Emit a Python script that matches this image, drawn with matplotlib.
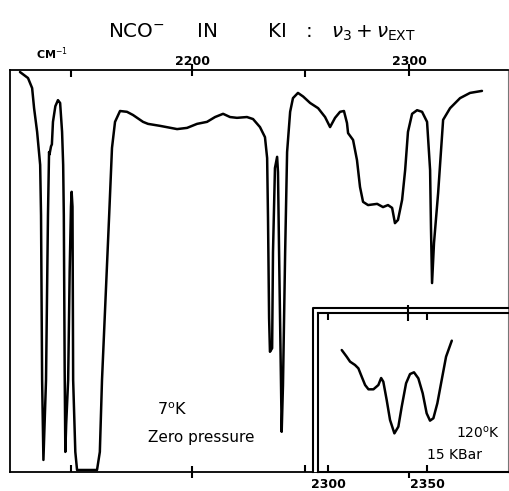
import matplotlib.pyplot as plt
from matplotlib.lines import Line2D
from matplotlib.patches import Rectangle

# main trace, 7 K, zero pressure (wavenumber cm-1, % of frame height)
WN_MAIN = [2120.7, 2124.4, 2126.3, 2127.2, 2128.6, 2130.0, 2130.4, 2130.9, 2131.5,
           2132.7, 2133.6, 2134.1, 2134.3, 2135.0, 2135.4, 2135.9, 2137.0, 2137.8,
           2138.2, 2139.2, 2140.1, 2140.6, 2140.9, 2141.3, 2141.6, 2142.0, 2142.9,
           2143.6, 2144.2, 2144.5, 2144.9, 2145.2, 2146.2, 2147.0, 2156.2, 2157.5,
           2158.5, 2161.8, 2163.1, 2164.5, 2166.8, 2170.0, 2172.8, 2177.4, 2179.7,
           2185.3, 2193.1, 2197.7, 2202.3, 2206.9, 2210.6, 2214.3, 2217.5, 2220.7,
           2225.3, 2228.1, 2231.3, 2233.6, 2234.6, 2235.0, 2235.5, 2235.9, 2236.9,
           2237.3, 2238.2, 2239.2, 2239.6, 2240.1, 2241.0, 2241.3, 2241.9, 2242.9,
           2243.8, 2245.2, 2246.5, 2248.8, 2251.2, 2254.4, 2258.1, 2261.3, 2263.6,
           2265.9, 2268.2, 2270.0, 2271.4, 2271.9, 2274.2, 2276.0, 2277.4, 2278.8,
           2281.1, 2285.3, 2288.0, 2290.3, 2292.2, 2293.5, 2294.9, 2296.8, 2298.2,
           2299.5, 2301.4, 2303.7, 2306.0, 2308.3, 2309.7, 2310.1, 2310.6, 2311.5,
           2313.4, 2315.7, 2318.9, 2323.5, 2328.1, 2333.6]
T_MAIN = [99.5, 98.0, 95.5, 90.5, 84.6, 76.4, 63.9, 22.9, 3.0,
          22.9, 63.9, 79.6, 79.0, 81.0, 81.5, 87.1, 91.0, 92.0,
          92.5, 91.8, 84.6, 76.4, 63.9, 25.0, 5.0, 12.0, 22.9,
          50.0, 66.0, 69.7, 66.0, 22.9, 5.0, 0.5, 0.5, 5.0,
          22.9, 63.9, 80.6, 87.1, 89.8, 89.6, 88.8, 87.1, 86.6,
          86.1, 85.3, 85.6, 86.6, 87.1, 88.3, 89.1, 88.3, 88.1,
          88.3, 87.8, 85.8, 83.3, 78.1, 63.2, 38.3, 29.9, 30.8,
          54.7, 75.6, 78.4, 74.6, 54.7, 21.6, 10.0, 21.6, 54.7,
          79.6, 89.6, 93.0, 94.3, 93.4, 91.8, 90.5, 88.3, 85.8,
          88.1, 89.6, 89.8, 86.8, 84.3, 82.6, 77.6, 70.9, 67.2,
          66.4, 66.7, 65.9, 66.4, 65.7, 61.9, 62.7, 67.7, 75.1,
          84.6, 89.1, 90.0, 89.6, 87.1, 75.1, 60.9, 47.0, 57.0,
          69.4, 87.6, 90.5, 93.0, 94.3, 94.8]

# inset trace, 120 K, 15 kbar
WN_INSET = [2306.9, 2309.4, 2311.1, 2313.6, 2315.3, 2317.0, 2318.7, 2320.4, 2322.9,
            2325.4, 2326.8, 2327.9, 2329.6, 2331.3, 2333.5, 2335.5, 2337.2, 2339.4,
            2341.4, 2343.4, 2345.6, 2347.8, 2349.8, 2351.5, 2353.2, 2355.2, 2357.4,
            2359.6, 2362.5]
T_INSET = [76.7, 72.5, 69.4, 67.3, 65.2, 59.9, 54.7, 52.0, 52.0,
           54.7, 59.1, 56.8, 45.3, 32.7, 24.3, 28.5, 41.1, 55.8,
           61.6, 62.7, 58.9, 49.5, 36.9, 32.3, 33.8, 43.2, 57.9,
           72.5, 82.6]

MAIN_TICKS = [2200, 2300]
MAIN_MINOR = [2144, 2252]
INSET_TICKS = [2300, 2350]

W, H = 510, 491
fig = plt.figure(figsize=(W / 100, H / 100), dpi=100)

ax = fig.add_axes([10 / W, 19 / H, 498 / W, 402 / H])
ax.plot(WN_MAIN, T_MAIN, color='black', lw=1.8, solid_capstyle='round')
ax.set_xlim(2116.1, 2345.6)
ax.set_ylim(0, 100)
ax.set_yticks([])
ax.set_xticks(MAIN_TICKS)
ax.set_xticks(MAIN_MINOR, minor=True)
ax.set_xticklabels([str(t) for t in MAIN_TICKS], fontsize=9, fontweight='bold')
ax.tick_params(axis='x', which='both', top=True, bottom=True,
               labeltop=True, labelbottom=False, color='black')
ax.tick_params(axis='x', which='major', direction='inout', length=9, width=1.5, pad=-3)
ax.tick_params(axis='x', which='minor', direction='in', length=5, width=1.5)
for side in ['left', 'top', 'bottom']:
    ax.spines[side].set_linewidth(1.3)
ax.spines['right'].set_linewidth(0.8)
ax.spines['right'].set_color('#777777')

ax.text((36 - 10) / 498, 1.02, 'CM$^{-1}$', transform=ax.transAxes, fontsize=8,
        fontweight='bold', ha='left', va='bottom')
ax.text(2190.8, 15.4, '7$^{\\rm o}$K', fontsize=11.5, ha='center', va='center')
ax.text(2204.1, 8.7, 'Zero pressure', fontsize=11, ha='center', va='center')

# white cover + double outer frame of the inset
fig.patches.append(Rectangle((313 / W, 19 / H), 195 / W, 164 / H,
                             transform=fig.transFigure, facecolor='white',
                             edgecolor='none', zorder=1))
fig.lines.append(Line2D([313 / W, 313 / W, 508 / W], [19 / H, 183 / H, 183 / H],
                        transform=fig.transFigure, color='black', lw=1.5, zorder=3))

ax2 = fig.add_axes([318 / W, 19 / H, 190 / W, 159 / H])
ax2.set_zorder(2)
ax2.plot(WN_INSET, T_INSET, color='black', lw=1.8, solid_capstyle='round')
ax2.set_xlim(2294.9, 2390.9)
ax2.set_ylim(0, 100)
ax2.set_yticks([])
ax2.set_xticks(INSET_TICKS)
ax2.set_xticks([2340.4], minor=True)
ax2.set_xticklabels([str(t) for t in INSET_TICKS], fontsize=9, fontweight='bold')
ax2.tick_params(axis='x', which='major', direction='in', length=5, width=1.5,
                top=True, pad=4)
ax2.tick_params(axis='x', which='minor', direction='inout', length=12, width=1.5,
                top=True, bottom=False)
for side in ['left', 'top', 'bottom']:
    ax2.spines[side].set_linewidth(1.5)
ax2.spines['right'].set_linewidth(0.8)
ax2.spines['right'].set_color('#777777')

ax2.text(2364.5, 24.5, '120$^{\\rm o}$K', fontsize=10, ha='left', va='center')
ax2.text(2350.0, 11.0, '15 KBar', fontsize=10, ha='left', va='center')

fig.text(262 / W, 1 - 32 / H,
         'NCO$^{-}$     IN        KI   :   $\\nu_3 + \\nu_{\\rm EXT}$',
         fontsize=14.3, ha='center', va='center')

fig.savefig('out.png', dpi=100, facecolor='white')
